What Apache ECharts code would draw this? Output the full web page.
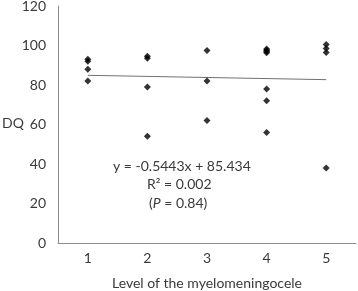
<!DOCTYPE html>
<html>
<head>
<meta charset="utf-8">
<script src="https://cdn.jsdelivr.net/npm/echarts@6/dist/echarts.min.js"></script>
<style>
  html, body { margin: 0; padding: 0; background: #fff; }
  #chart { width: 358px; height: 291px; }
</style>
</head>
<body>
<div id="chart"></div>
<script>
const levels = [1, 2, 3, 4, 5]
const level1 = [93, 92, 88, 82]
const level2 = [94.5, 93.5, 79, 54]
const level3 = [97.5, 82, 62]
const level4 = [98.2, 97.6, 97, 96.3, 78, 72, 56]
const level5 = [100.5, 98.5, 96.5, 38]
const trendLine = [[1, 84.9], [5, 82.7]]
const yTicks = [0, 20, 40, 60, 80, 100, 120]

const groups = [level1, level2, level3, level4, level5]
const points = []
groups.forEach((vals, i) => {
  vals.forEach(v => points.push([levels[i], v]))
})

const font = 'Lato'
const textColor = '#3a3a3a'

const chart = echarts.init(document.getElementById('chart'))
chart.setOption({
  animation: false,
  textStyle: { fontFamily: font },
  grid: { left: 58, right: 2, top: 6, bottom: 48, outerBoundsMode: 'none', containLabel: false },
  xAxis: {
    type: 'value',
    min: 0.5,
    max: 5.5,
    name: 'Level of the myelomeningocele',
    nameLocation: 'middle',
    nameGap: 33,
    nameTextStyle: { color: textColor, fontSize: 14, fontFamily: font },
    splitLine: { show: false },
    axisTick: { show: false },
    axisLine: { lineStyle: { color: '#8c8c8c' } },
    axisLabel: {
      customValues: levels,
      color: textColor,
      fontSize: 14,
      margin: 8,
    },
  },
  yAxis: {
    type: 'value',
    min: 0,
    max: 120,
    interval: 20,
    splitLine: { show: false },
    axisTick: { show: false },
    axisLine: { show: true, lineStyle: { color: '#8c8c8c' } },
    axisLabel: {
      customValues: yTicks,
      color: textColor,
      fontSize: 14,
      margin: 12,
    },
  },
  graphic: [
    {
      type: 'text',
      left: 2,
      top: 116,
      style: { text: 'DQ', fill: textColor, font: '14px Lato' },
    },
    {
      type: 'text',
      left: 113,
      top: 159,
      style: { text: 'y = -0.5443x + 85.434', fill: textColor, font: '14px Lato' },
    },
    {
      type: 'text',
      left: 147,
      top: 177,
      style: { text: 'R² = 0.002', fill: textColor, font: '14px Lato' },
    },
    {
      type: 'text',
      left: 149,
      top: 196,
      style: {
        text: '({i|P} = 0.84)',
        fill: textColor,
        font: '14px Lato',
        rich: { i: { fontStyle: 'italic', fontSize: 14, fontFamily: font, fill: textColor } },
      },
    },
  ],
  series: [
    {
      type: 'line',
      data: trendLine,
      symbol: 'none',
      lineStyle: { color: '#707070', width: 1 },
      z: 1,
    },
    {
      type: 'scatter',
      data: points,
      symbol: 'diamond',
      symbolSize: 7,
      itemStyle: { color: '#000' },
      z: 2,
    },
  ],
})
</script>
</body>
</html>
